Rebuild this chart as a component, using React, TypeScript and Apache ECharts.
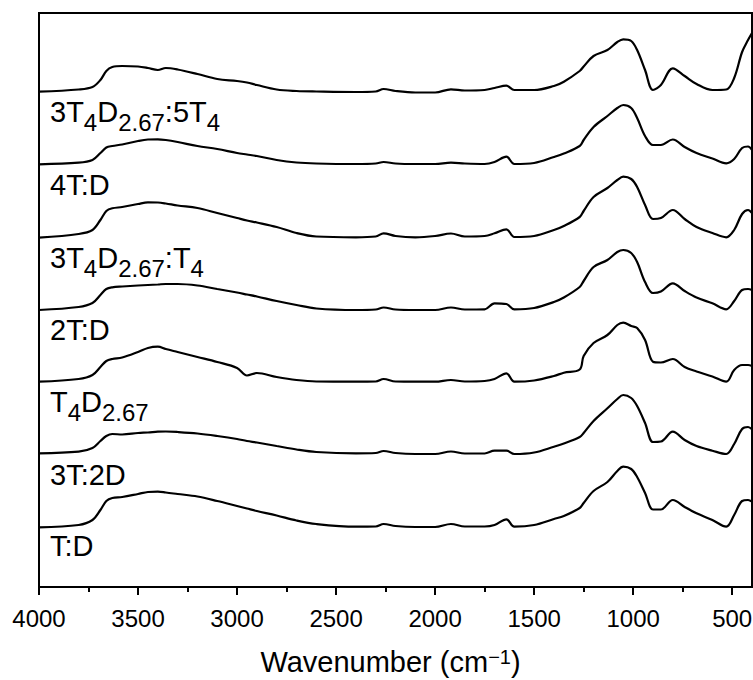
import React, { useEffect, useRef } from 'react';
import * as echarts from 'echarts';

// Wavenumber grid (cm^-1), shared by all spectra
const wavenumbers = [
  4000, 3800, 3730, 3690, 3660, 3630, 3580, 3500, 3450, 3400,
  3360, 3300, 3200, 3100, 3000, 2950, 2900, 2800, 2700, 2600,
  2400, 2300, 2260, 2200, 2100, 2000, 1920, 1850, 1750, 1700,
  1640, 1600, 1500, 1400, 1350, 1270, 1250, 1200, 1130, 1080,
  1050, 1010, 980, 940, 900, 860, 800, 740, 680, 600,
  530, 490, 450, 420, 400,
];

// Stacked (offset) transmittance, arbitrary units
const specT3D5T4 = [
  495.3, 497.5, 500, 507, 516, 520, 521, 520.5, 519, 517,
  519, 517.5, 513, 508, 506, 504.5, 502, 497.5, 496, 495.5,
  495, 495.5, 498, 496, 494.5, 494.5, 497.7, 496.5, 497, 499,
  501.3, 497, 497, 501, 505.3, 516, 520.5, 531, 537, 545,
  547.7, 546, 537, 517, 497, 502, 518.7, 511, 503, 497,
  497.5, 509, 535, 547, 554,
];
const spec4TD = [
  422.7, 424.3, 427, 434, 439.5, 441, 442.5, 446, 447.5, 447.7,
  447, 445, 441, 438, 434, 432.5, 431, 427, 424.5, 423.5,
  423, 423.5, 425, 423.5, 423, 423, 424.3, 423.5, 423, 425,
  430.3, 423, 424, 430, 433.5, 441, 447, 460, 471, 479,
  482, 479, 469, 451, 442, 442, 447.5, 440, 434, 428.5,
  423.7, 428, 439, 440.5, 437,
];
const specT3DT4 = [
  349.3, 353, 357, 367, 376, 378.7, 380, 383, 384.7, 384.5,
  383.5, 381.5, 379, 374, 369, 366.5, 364.5, 360, 354, 350.5,
  349.7, 350.5, 353.7, 351, 349.7, 351, 353.5, 350.5, 351, 353.7,
  357.7, 350, 351, 357, 361, 370, 376, 390, 399, 407,
  410.3, 408, 400, 382, 368, 369, 377, 368, 360, 354,
  349.7, 357, 373, 377, 374,
];
const spec2TD = [
  277, 280, 284, 292, 298, 299.7, 300.5, 301.5, 302, 302.5,
  303, 303, 301.5, 298, 294.5, 292.5, 290.5, 286, 282, 278.5,
  277, 277.5, 279.5, 277.5, 277, 277, 279.5, 277.5, 277.7, 283.7,
  283, 277.7, 279, 285, 289.5, 300, 306, 320, 327, 335,
  337, 334, 325, 305, 294, 295.5, 303.7, 296, 289.5, 283.7,
  277.7, 286, 297, 298, 297,
];
const specT4D = [
  205.3, 208, 212, 220, 226, 228, 229.5, 235, 239, 240.3,
  238, 235, 230, 225, 219, 211.5, 214, 210, 207, 205.5,
  205.3, 205.5, 208, 205.5, 205.3, 205.3, 207, 205.5, 206, 208,
  213.7, 205.3, 206.5, 211, 214.3, 217.5, 231, 244, 252, 262,
  264.3, 261, 259, 247, 225.3, 224.5, 228, 220, 215.5, 210.5,
  205.3, 217, 222, 222, 221,
];
const spec3T2D = [
  133.7, 135.3, 139, 146, 151, 153, 152.5, 154, 154.5, 155.3,
  155.5, 155, 153.5, 151, 148, 146, 144.5, 141, 137.5, 135,
  133.7, 134, 136, 134, 133, 133, 135.5, 133.5, 133.5, 136.3,
  136.3, 133, 134.5, 140.3, 143.5, 150, 154, 166, 178.7, 188,
  192, 189, 181, 164, 145, 145.5, 155.3, 147, 141, 136.3,
  133, 143, 158, 160, 157.7,
];
const specTD = [
  59.7, 62, 67, 77, 86, 89, 90, 93, 95, 95.3,
  94.5, 93, 90.5, 86, 81, 78.5, 76, 71.5, 66.5, 63,
  60.3, 60.5, 63, 61, 60, 60, 63, 60.5, 60.5, 62,
  67.7, 60.3, 62, 68, 71, 79, 84, 96, 105, 116,
  120.3, 118, 110, 94, 77.5, 77.5, 87, 80, 73.7, 67,
  60.3, 72, 86, 87, 85.3,
];

const seriesValues = [specT3D5T4, spec4TD, specT3DT4, spec2TD, specT4D, spec3T2D, specTD];
const seriesNames = ['3T4D2.67:5T4', '4T:D', '3T4D2.67:T4', '2T:D', 'T4D2.67', '3T:2D', 'T:D'];
// Rich-text versions of the labels (subscripts)
const labelRichTexts = [
  '{m|3T}{s|4}{m|D}{s|2.67}{m|:5T}{s|4}',
  '{m|4T:D}',
  '{m|3T}{s|4}{m|D}{s|2.67}{m|:T}{s|4}',
  '{m|2T:D}',
  '{m|T}{s|4}{m|D}{s|2.67}',
  '{m|3T:2D}',
  '{m|T:D}',
];

const majorTicks = [500, 1000, 1500, 2000, 2500, 3000, 3500, 4000];
const minorTicks = [750, 1250, 1750, 2250, 2750, 3250, 3750];

const FONT = 'Liberation Sans, Arial, Helvetica, sans-serif';

export default function App() {
  const ref = useRef<HTMLDivElement>(null);

  useEffect(() => {
    if (!ref.current) return;
    const chart = echarts.init(ref.current, null, { renderer: 'svg' });

    const labelTops = [97, 169.6, 243, 314.6, 387.3, 459.6, 531.3];

    const option: any = {
      animation: false,
      backgroundColor: '#fff',
      grid: {
        left: 39,
        right: 1,
        top: 13,
        bottom: 93,
        containLabel: false,
        outerBoundsMode: 'none',
        show: true,
        borderColor: '#000',
        borderWidth: 2,
        backgroundColor: 'transparent',
      },
      xAxis: [
        {
          type: 'value',
          inverse: true,
          min: 400,
          max: 4000,
          position: 'bottom',
          name: '{n|Wavenumber (cm}{sup|\u22121}{n|)}',
          nameLocation: 'middle',
          nameGap: 60,
          nameTextStyle: {
            fontFamily: FONT,
            color: '#000',
            padding: [0, 10, 0, 0],
            rich: {
              n: { fontSize: 29, fontFamily: FONT, color: '#000', height: 29, lineHeight: 29, verticalAlign: 'top' },
              sup: { fontSize: 20, fontFamily: FONT, color: '#000', height: 19, lineHeight: 19, verticalAlign: 'top' },
            },
          },
          axisLine: { show: true, onZero: false, lineStyle: { color: '#000', width: 2 } },
          axisTick: {
            show: true,
            inside: false,
            length: 8,
            customValues: majorTicks,
            lineStyle: { color: '#000', width: 2 },
          },
          axisLabel: {
            show: true,
            customValues: majorTicks,
            margin: 19,
            fontSize: 24,
            fontFamily: FONT,
            color: '#000',
            formatter: (v: number) => String(v),
          },
          splitLine: { show: false },
          minorTick: { show: false },
        },
        {
          type: 'value',
          inverse: true,
          min: 400,
          max: 4000,
          position: 'bottom',
          axisLine: { show: false },
          axisTick: {
            show: true,
            inside: false,
            length: 5,
            customValues: minorTicks,
            lineStyle: { color: '#000', width: 2 },
          },
          axisLabel: { show: false },
          splitLine: { show: false },
        },
      ],
      yAxis: {
        type: 'value',
        min: 0,
        max: 574,
        show: false,
        splitLine: { show: false },
      },
      series: seriesValues.map((vals, i) => ({
        name: seriesNames[i],
        type: 'line',
        xAxisIndex: 0,
        data: wavenumbers.map((w, j) => [w, vals[j]]),
        smooth: 0.35,
        showSymbol: false,
        symbol: 'none',
        lineStyle: { color: '#000', width: 2.2 },
        clip: true,
      })),
      graphic: labelRichTexts.map((t, i) => ({
        type: 'text',
        x: 50,
        y: labelTops[i],
        silent: true,
        style: {
          text: t,
          fill: '#000',
          align: 'left',
          verticalAlign: 'top',
          font: `29px ${FONT}`,
          rich: {
            m: { fontSize: 29, fontFamily: FONT, fill: '#000', height: 30, lineHeight: 30, verticalAlign: 'top' },
            s: { fontSize: 24, fontFamily: FONT, fill: '#000', height: 50, lineHeight: 50, verticalAlign: 'top' },
          },
        },
      })),
    };

    chart.setOption(option);
    return () => chart.dispose();
  }, []);

  return (
    <div
      ref={ref}
      style={{ position: 'fixed', left: 0, top: 0, width: 753, height: 680, background: '#fff' }}
    />
  );
}
